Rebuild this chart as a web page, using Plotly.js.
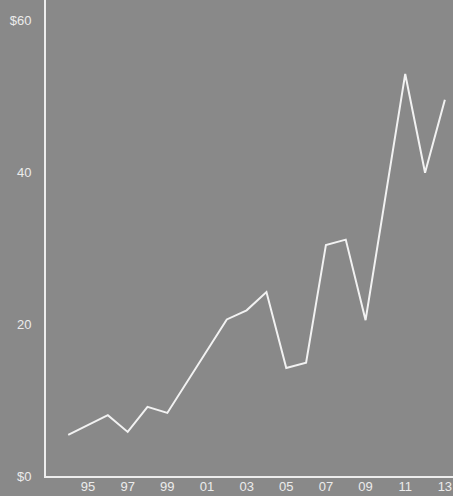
<!DOCTYPE html>
<html>
<head>
<meta charset="utf-8">
<script src="https://cdn.plot.ly/plotly-3.0.1.min.js"></script>
<style>
html,body{margin:0;padding:0;background:#898989;}
#chart{width:453px;height:496px;}
</style>
</head>
<body>
<div id="chart"></div>
<script>
// Data (values in dollars)
const years = [1994,1995,1996,1997,1998,1999,2000,2001,2002,2003,2004,2005,2006,2007,2008,2009,2010,2011,2012,2013];
const values = [5.4,6.7,8.0,5.8,9.1,8.3,12.4,16.6,20.6,21.8,24.2,14.2,14.9,30.4,31.1,20.5,36.7,52.9,39.9,49.5];
const xTickVals = [1995,1997,1999,2001,2003,2005,2007,2009,2011,2013];
const xTickText = ["95","97","99","01","03","05","07","09","11","13"];
const yTickVals = [0,20,40,60];
const yTickText = ["$0","20","40","$60"];

const trace = {
  x: years, y: values, type: 'scatter', mode: 'lines',
  line: {color: '#f2f2f2', width: 2},
  hoverinfo: 'skip'
};

const layout = {
  width: 453, height: 496,
  margin: {l: 46, r: 0, t: 0, b: 20},
  paper_bgcolor: '#898989',
  plot_bgcolor: '#898989',
  showlegend: false,
  font: {family: 'Liberation Sans, Arial, sans-serif', size: 13, color: '#ececec'},
  xaxis: {
    range: [1992.88, 2013.41],
    tickvals: xTickVals, ticktext: xTickText,
    showgrid: false, zeroline: false,
    showline: true, linecolor: '#eeeeee', linewidth: 2,
    ticks: '', ticklabelstandoff: -3,
    tickfont: {size: 13, color: '#ececec'},
    fixedrange: true
  },
  yaxis: {
    range: [0, 62.63],
    tickvals: yTickVals, ticktext: yTickText,
    showgrid: false, zeroline: false,
    showline: true, linecolor: '#eeeeee', linewidth: 2,
    ticks: '', ticklabelstandoff: 10,
    tickfont: {size: 13, color: '#ececec'},
    fixedrange: true
  }
};

Plotly.newPlot('chart', [trace], layout, {displayModeBar: false, staticPlot: true});
</script>
</body>
</html>
